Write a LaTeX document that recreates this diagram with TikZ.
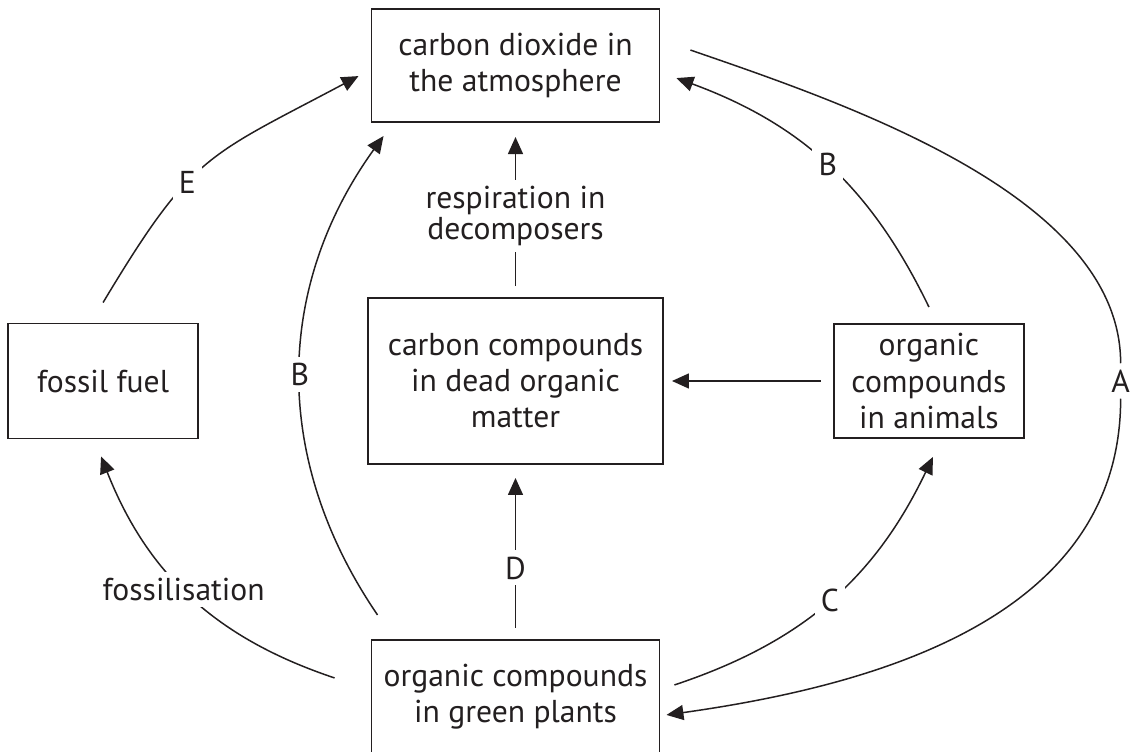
\documentclass[tikz,border=0pt]{standalone}
\usepackage{fontspec}
\setmainfont{PT Sans}
\usetikzlibrary{positioning,arrows.meta}
\definecolor{ink}{HTML}{231F20}

\begin{document}
\begin{tikzpicture}
  \newdimen\dist
  \dist=3.48cm

  \tikzstyle{store} = [
    % The shape:
    rectangle, inner sep=0pt,
    % The border:
    draw=ink, line width=1.1pt,
    % Font:
    text=ink, align=center, font=\fontsize{18}{20.5}\selectfont
  ];
  \tikzstyle{process} = [
    % Just text on a white patch!
    fill=white, inner sep=3.5pt,
    text=ink, align=center, font=\fontsize{18}{16}\selectfont
  ];
  \tikzstyle{flow} = [
    draw = ink,
    line width=0.85pt,
    -{Triangle[length=0.34cm,width=0.3cm]}
  ];
  \tikzstyle{joiningFlow} = [
    draw = ink,
    line width=0.85pt
  ];

  \useasboundingbox (-10.31,-7.42) rectangle (12.31,7.62);

  \node [store, minimum width=5.9cm, minimum height=3.32cm] (deadMatter)
        {carbon compounds\\in dead organic\\matter};
  \node [store, minimum width=5.76cm, minimum height=2.26cm,
         above = \dist of deadMatter] (atmosphere) {carbon dioxide in\\the atmosphere};
  \node [store, minimum width=5.76cm, minimum height=2.26cm,
         below = \dist of deadMatter] (plants) {organic compounds\\in green plants};
  \node [store, minimum width=3.8cm, minimum height=2.28cm,
         right = 3.38cm of deadMatter] (animals) {organic\\compounds\\in animals};
  \node [store, minimum width=3.8cm, minimum height=2.3cm,
         left = 3.36cm of deadMatter] (fossilFuel) {fossil fuel};

  \path [flow] ([yshift=0.4cm]fossilFuel.north) to[out=59,in=-152,looseness=1.3] node[process,pos=0.4]{E}
               ([xshift=-0.24cm,yshift=-0.21cm]atmosphere.west);
  \path [flow] ([xshift=0.14cm,yshift=0.48cm]plants.north west) to[bend left=35] node[process]{B}
               ([xshift=0.26cm,yshift=-0.26cm]atmosphere.south west);
  \path [flow] ([yshift=0.22cm]deadMatter.north) to node[process,pos=0.47]{respiration in\\decomposers}
               ([yshift=-0.28cm]atmosphere.south);
  \path [flow] ([yshift=0.32cm]animals.north) to[bend right=22] node[process]{B}
               ([xshift=0.32cm,yshift=-0.25cm]atmosphere.east);
  \path [flow] ([xshift=-0.24cm]animals.west) to ([xshift=0.16cm]deadMatter.east);
  \path [flow] ([yshift=0.22cm]plants.north) to node[process,pos=0.4]{D}
               ([yshift=-0.26cm]deadMatter.south);
  \path [flow] ([xshift=0.28cm,yshift=0.23cm]plants.east) to[bend right=23] node[process]{C}
               ([xshift=0.08cm,yshift=-0.36cm]animals.south);
  \path [flow] ([xshift=-0.72cm,yshift=0.37cm]plants.west) to[bend left=25] node[process,pos=0.53]{fossilisation}
               ([xshift=-0.04cm,yshift=-0.34cm]fossilFuel.south);

  % the long way round, broken at its label
  \node [process, right = 1.6cm of animals] (labelA) {A};
  \path [joiningFlow] ([xshift=0.6cm,yshift=0.31cm]atmosphere.east) to[out=-19,in=90,looseness=0.8] (labelA.north);
  \path [flow] (labelA.south) to[out=-90,in=8] ([xshift=0.12cm,yshift=-0.37cm]plants.east);
\end{tikzpicture}
\end{document}
